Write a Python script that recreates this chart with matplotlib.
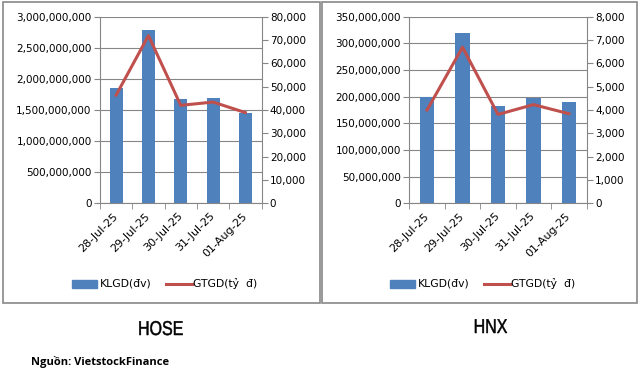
import matplotlib.pyplot as plt
import matplotlib.patches as mpatches
import matplotlib.transforms as mtransforms
from matplotlib.lines import Line2D
from matplotlib.textpath import TextPath
from matplotlib.font_manager import FontProperties
from matplotlib.ticker import FuncFormatter, MultipleLocator
import numpy as np

plt.rcParams['font.family'] = ['DejaVu Sans']

dates = ["28-Jul-25", "29-Jul-25", "30-Jul-25", "31-Jul-25", "01-Aug-25"]

hose_vol = [1859000000, 2786000000, 1682000000, 1698000000, 1457000000]
hose_val = [46400, 71900, 42000, 43400, 38900]

hnx_vol = [200000000, 319400000, 182500000, 197500000, 190000000]
hnx_val = [4000, 6690, 3810, 4230, 3840]

BAR = "#4F81BD"
LINE = "#C0504D"
GRID = "#868686"

W, H = 639, 373
fig = plt.figure(figsize=(W / 100, H / 100), dpi=100)


def px_rect(x0, y0, x1, y1):
    return [x0 / W, 1 - y1 / H, (x1 - x0) / W, (y1 - y0) / H]


fmt = FuncFormatter(lambda v, p: f"{int(v):,}")


def panel(x0, x1, vol, val, vmax, vstep, gmax, gstep, leg_x):
    ax = fig.add_axes(px_rect(x0, 16.7, x1, 203.3))
    x = np.arange(len(dates))
    ax.bar(x, vol, width=0.4, color=BAR, zorder=2)
    ax.set_xlim(-0.5, len(dates) - 0.5)
    ax.set_ylim(0, vmax)
    ax.yaxis.set_major_locator(MultipleLocator(vstep))
    ax.yaxis.set_major_formatter(fmt)
    ax.grid(axis="y", color=GRID, lw=0.8, zorder=0)
    ax.set_xticks(x)
    ax.set_xticklabels(dates, rotation=45, ha="right", va="center",
                       rotation_mode="anchor", fontsize=8)
    shift = mtransforms.ScaledTranslation(8 / 100, -7 / 100, fig.dpi_scale_trans)
    for lab in ax.get_xticklabels():
        lab.set_transform(lab.get_transform() + shift)
    ax.tick_params(axis="x", length=0, pad=8)
    ax.set_xticks(np.arange(-0.5, len(dates)), minor=True)
    ax.tick_params(axis="x", which="minor", length=4, color=GRID)
    ax.tick_params(axis="y", labelsize=7.5, length=4, color=GRID, pad=2)
    for s in ["top", "right"]:
        ax.spines[s].set_visible(False)
    for s in ["left", "bottom"]:
        ax.spines[s].set_color(GRID)

    ax2 = ax.twinx()
    ax2.plot(x, val, color=LINE, lw=2.2, zorder=3)
    ax2.set_ylim(0, gmax)
    ax2.yaxis.set_major_locator(MultipleLocator(gstep))
    ax2.yaxis.set_major_formatter(fmt)
    ax2.tick_params(axis="y", labelsize=7.5, length=4, color=GRID, pad=2)
    for s in ["top", "left", "bottom"]:
        ax2.spines[s].set_visible(False)
    ax2.spines["right"].set_color(GRID)

    # legend
    ly = 284
    fig.patches.append(mpatches.Rectangle((leg_x / W, 1 - (ly + 4) / H), 25 / W, 8 / H,
                                          transform=fig.transFigure, color=BAR))
    fig.text((leg_x + 28) / W, 1 - ly / H, "KLGD(đv)", fontsize=7.8, va="center")
    fig.lines.append(Line2D([(leg_x + 94) / W, (leg_x + 120) / W], [1 - ly / H] * 2,
                            transform=fig.transFigure, color=LINE, lw=2.2))
    fig.text((leg_x + 121) / W, 1 - ly / H, "GTGD(tỷ  đ)", fontsize=7.8, va="center")


panel(100, 261.5, hose_vol, hose_val, 3000000000, 500000000, 80000, 10000, 72)
panel(409.3, 586.7, hnx_vol, hnx_val, 350000000, 50000000, 8000, 1000, 390)

# panel borders
for bx0, bx1 in [(2.5, 320), (321.5, 637)]:
    fig.patches.append(mpatches.Rectangle((bx0 / W, 1 - 303 / H), (bx1 - bx0) / W, 301 / H,
                                          transform=fig.transFigure, fill=False,
                                          edgecolor="#888888", lw=1.2))


# narrow titles: squeeze a normal font horizontally
def narrow_title(label, cx, baseline):
    tp = TextPath((0, 0), label, size=20, prop=FontProperties(family="Liberation Sans"))
    ext = tp.get_extents()
    sx = 0.8
    tr = mtransforms.Affine2D().scale(sx, 1).translate(cx - sx * (ext.x0 + ext.x1) / 2,
                                                      H - baseline)
    fig.patches.append(mpatches.PathPatch(tr.transform_path(tp), facecolor="black",
                                          edgecolor="black", lw=0.35,
                                          transform=mtransforms.IdentityTransform()))


narrow_title("HOSE", 161, 335)
narrow_title("HNX", 491, 333)

fig.text(31 / W, 1 - 365 / H, "Nguồn: VietstockFinance", fontsize=8,
         fontweight="bold", ha="left", va="baseline", family=["Open Sans", "DejaVu Sans"])

fig.savefig("out.png", dpi=100, facecolor="white")
